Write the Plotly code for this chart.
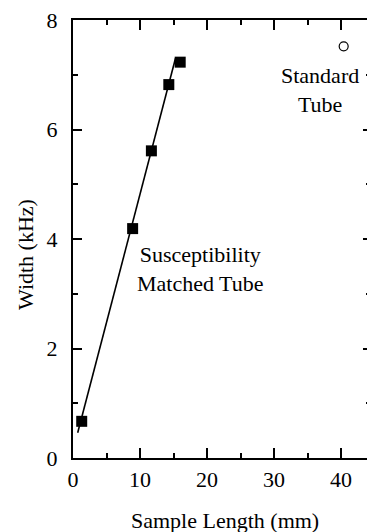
import plotly.graph_objects as go

# Data
matched_length = [1.3, 8.9, 11.7, 14.3, 16.0]
matched_width = [0.67, 4.19, 5.61, 6.82, 7.23]
standard_length = [40.4]
standard_width = [7.52]
fit_length = [0.7, 15.3]
fit_width = [0.46, 7.30]

FONT = "Liberation Serif"
W, H = 367, 532
L, T, B = 73, 20, 74
PW = W - L
PH = H - T - B
XMAX = PW / 6.7

fig = go.Figure()
fig.add_trace(go.Scatter(x=fit_length, y=fit_width, mode="lines",
                         line=dict(color="black", width=1.6), showlegend=False))
fig.add_trace(go.Scatter(x=matched_length, y=matched_width, mode="markers",
                         marker=dict(symbol="square", size=11, color="black",
                                     line=dict(width=0)), showlegend=False))
fig.add_trace(go.Scatter(x=standard_length, y=standard_width, mode="markers",
                         marker=dict(symbol="circle-open", size=9, color="black",
                                     line=dict(width=1.2)), showlegend=False))
# helper trace for right-side tick axis
fig.add_trace(go.Scatter(x=[None], y=[None], yaxis="y2", showlegend=False))

axis_font = dict(family=FONT, size=22, color="black")
fig.update_layout(
    width=W, height=H,
    margin=dict(l=L, r=0, t=T, b=B),
    paper_bgcolor="white", plot_bgcolor="white",
    font=axis_font,
    xaxis=dict(range=[0, XMAX], showgrid=False, zeroline=False,
               showline=True, linecolor="black", linewidth=2, mirror="ticks",
               ticks="inside", ticklen=10, tickwidth=1.5, tickcolor="black",
               tick0=0, dtick=10, tickfont=axis_font, ticklabelstandoff=1,
               minor=dict(ticks="inside", ticklen=5, tickwidth=1.5,
                          tickcolor="black", dtick=5, showgrid=False)),
    yaxis=dict(range=[0, 8], showgrid=False, zeroline=False,
               showline=True, linecolor="black", linewidth=2, mirror=False,
               ticks="inside", ticklen=9, tickwidth=1.5, tickcolor="black",
               tick0=0, dtick=2, tickfont=axis_font, ticklabelstandoff=9,
               minor=dict(ticks="inside", ticklen=5, tickwidth=1.5,
                          tickcolor="black", dtick=1, showgrid=False)),
    yaxis2=dict(range=[0, 8], overlaying="y", side="right", showgrid=False,
                zeroline=False, showline=False, showticklabels=False,
                ticks="inside", ticklen=4, tickwidth=1.5, tickcolor="black",
                tick0=0, dtick=2,
                minor=dict(ticks="inside", ticklen=1, tickwidth=1.5,
                           tickcolor="black", dtick=1, showgrid=False)),
    annotations=[
        dict(text="Standard<br>Tube", x=36.9, y=6.73, xref="x", yref="y",
             showarrow=False, font=axis_font, align="center"),
        dict(text="Susceptibility<br>Matched Tube", x=19.0, y=3.45, xref="x", yref="y",
             showarrow=False, font=axis_font, align="center"),
        dict(text="Sample Length (mm)", x=(224.5 - L) / PW, y=(T + PH - 520) / PH,
             xref="paper", yref="paper", xanchor="center", yanchor="middle",
             showarrow=False, font=axis_font),
        dict(text="Width (kHz)", x=(25 - L) / PW, y=(T + PH - 255) / PH,
             xref="paper", yref="paper", xanchor="center", yanchor="middle",
             showarrow=False, font=axis_font, textangle=-90),
    ],
)

fig.write_html("out.html")
